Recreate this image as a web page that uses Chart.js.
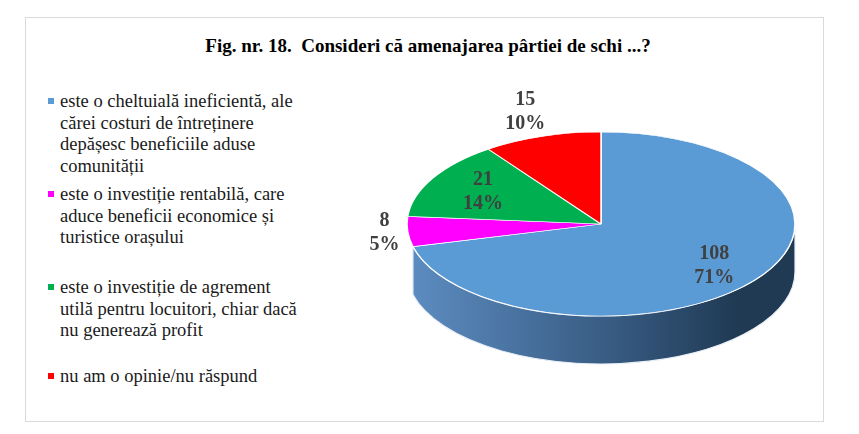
<!DOCTYPE html>
<html>
<head>
<meta charset="utf-8">
<script src="https://cdn.jsdelivr.net/npm/chart.js@4.4.0/dist/chart.umd.min.js"></script>
<style>
  body { margin: 0; background: #fff; }
  #wrap { position: relative; width: 859px; height: 434px; overflow: hidden; }
  #frame { position: absolute; left: 25px; top: 17px; width: 797px; height: 403px; border: 1px solid #d9d9d9; }
  #title { position: absolute; left: 0; top: 35px; width: 856px; text-align: center; white-space: pre;
           font: bold 19px "Liberation Serif", serif; color: #000; }
  .item { position: absolute; left: 60px; font: 18.5px/21.5px "Liberation Serif", serif; color: #1a1a1a; white-space: nowrap; }
  .mark { position: absolute; left: -12px; top: 7px; width: 6px; height: 6px; }
  canvas { position: absolute; left: 0; top: 0; }
</style>
</head>
<body>
<div id="wrap">
  <div id="frame"></div>
  <div id="title"></div>
  <div id="legend"></div>
  <canvas id="myChart" width="859" height="434"></canvas>
</div>
<script>
var title = 'Fig. nr. 18.  Consideri că amenajarea pârtiei de schi ...?';
var categories = [
  ['este o cheltuială ineficientă, ale', 'cărei costuri de întreținere', 'depășesc beneficiile aduse', 'comunității'],
  ['este o investiție rentabilă, care', 'aduce beneficii economice și', 'turistice orașului'],
  ['este o investiție de agrement', 'utilă pentru locuitori, chiar dacă', 'nu generează profit'],
  ['nu am o opinie/nu răspund']
];
var values = [108, 8, 21, 15];
var colors = ['#5B9BD5', '#FF00FF', '#00B050', '#FF0000'];

// look of the fake 3d pie
var sideColors = [['#5d8dc2', '#36597f', '#203a54'], ['#b000b0', '#990099', '#800080'],
                  ['#00863d', '#007535', '#00602b'], ['#c00000', '#a80000', '#900000']];
var labelRadius = [0.74, 1.12, 0.7, 1.28];
var legendTops = [91, 184, 277, 366];
var tilt = 92 / 194;
var depth = 48;

document.getElementById('title').textContent = title;
var legend = document.getElementById('legend');
categories.forEach(function (lines, i) {
  var div = document.createElement('div');
  div.className = 'item';
  div.style.top = legendTops[i] + 'px';
  div.innerHTML = '<span class="mark" style="background:' + colors[i] + '"></span>' + lines.join('<br>');
  legend.appendChild(div);
});

var total = values.reduce(function (a, b) { return a + b; }, 0);

var pie3d = {
  id: 'pie3d',
  beforeDatasetsDraw: function (chart) {
    var ctx = chart.ctx;
    var arcs = chart.getDatasetMeta(0).data;
    var cx = arcs[0].x, cy = arcs[0].y, r = arcs[0].outerRadius, ry = r * tilt;

    // front side of the disc, only where the slice faces the viewer
    arcs.forEach(function (arc, i) {
      [[-2 * Math.PI, -Math.PI], [0, Math.PI], [2 * Math.PI, 3 * Math.PI]].forEach(function (win) {
        var a = Math.max(arc.startAngle, win[0]);
        var b = Math.min(arc.endAngle, win[1]);
        if (b - a < 0.3) return; // too thin to show at this tilt
        var g = ctx.createLinearGradient(cx - r, 0, cx + r, 0);
        g.addColorStop(0, sideColors[i][0]);
        g.addColorStop(0.55, sideColors[i][1]);
        g.addColorStop(0.85, sideColors[i][2]);
        g.addColorStop(1, sideColors[i][2]);
        ctx.beginPath();
        ctx.ellipse(cx, cy, r, ry, 0, a, b, false);
        ctx.ellipse(cx, cy + depth, r, ry, 0, b, a, true);
        ctx.closePath();
        ctx.fillStyle = g;
        ctx.fill();
        ctx.strokeStyle = '#e8eef5';
        ctx.lineWidth = 1.2;
        ctx.stroke();
      });
    });

    // squash the top face into an ellipse
    ctx.save();
    ctx.translate(cx, cy);
    ctx.scale(1, tilt);
    ctx.translate(-cx, -cy);
  },
  afterDatasetsDraw: function (chart) {
    var ctx = chart.ctx;
    ctx.restore();
    var arcs = chart.getDatasetMeta(0).data;
    ctx.save();
    ctx.font = 'bold 20px "Liberation Serif", serif';
    ctx.fillStyle = '#404040';
    ctx.textAlign = 'center';
    ctx.textBaseline = 'middle';
    arcs.forEach(function (arc, i) {
      var mid = (arc.startAngle + arc.endAngle) / 2;
      var rr = arc.outerRadius * labelRadius[i];
      var x = arc.x + Math.cos(mid) * rr;
      var y = arc.y + Math.sin(mid) * rr * tilt;
      ctx.fillText(String(values[i]), x, y - 12);
      ctx.fillText(Math.round(values[i] / total * 100) + '%', x, y + 12);
    });
    ctx.restore();
  }
};

var ctx = document.getElementById('myChart').getContext('2d');
var chart = new Chart(ctx, {
  type: 'pie',
  data: {
    labels: categories,
    datasets: [{
      data: values,
      backgroundColor: colors,
      borderColor: '#ffffff',
      borderWidth: 1.5,
      radius: 194
    }]
  },
  options: {
    responsive: false,
    animation: false,
    events: [],
    layout: { padding: { left: 407, right: 64, top: 30, bottom: 16 } },
    plugins: {
      legend: { display: false },
      tooltip: { enabled: false }
    }
  },
  plugins: [pie3d]
});
</script>
</body>
</html>
